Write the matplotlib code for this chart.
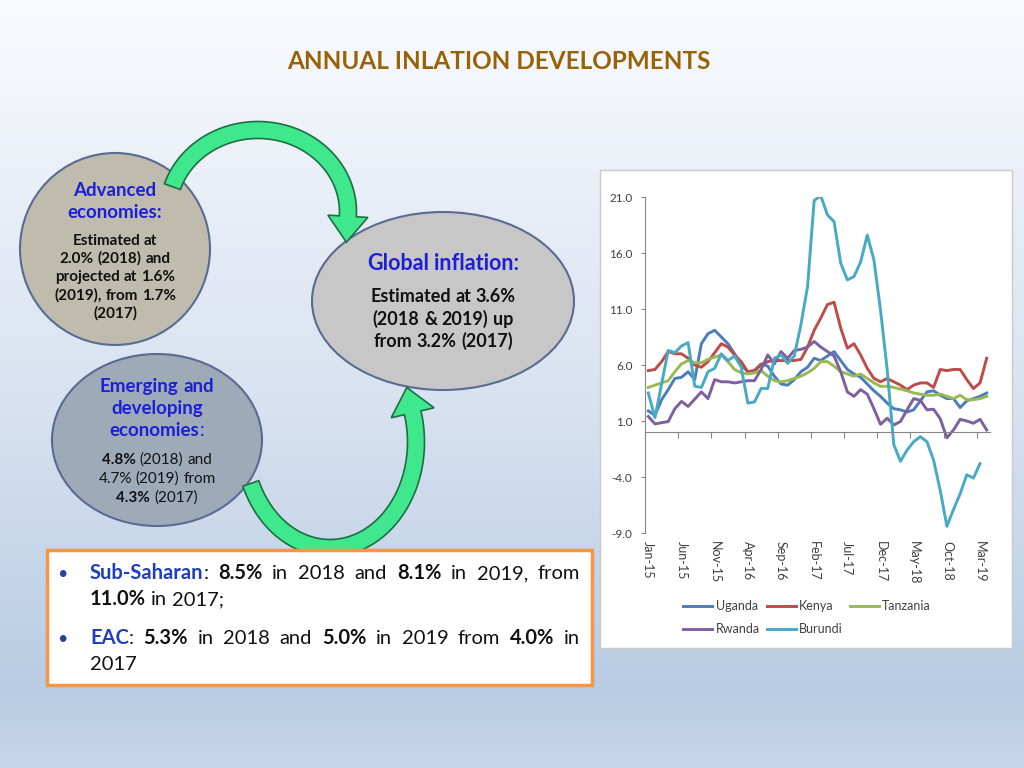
import numpy as np
import pandas as pd
import matplotlib
matplotlib.use('Agg')
import matplotlib.pyplot as plt
from matplotlib.patches import Ellipse, Rectangle, Polygon

plt.rcParams['font.family'] = ['Lato', 'DejaVu Sans']

# monthly annual inflation, Jan-15 .. Apr-19 (%)
months = pd.date_range('2015-01-01', periods=52, freq='MS').strftime('%b-%y')
tick_labels = ['Jan-15', 'Jun-15', 'Nov-15', 'Apr-16', 'Sep-16', 'Feb-17',
               'Jul-17', 'Dec-17', 'May-18', 'Oct-18', 'Mar-19']

uganda = [1.9, 1.5, 2.9, 3.8, 4.8, 4.9, 5.4, 4.7, 7.9, 8.8, 9.1, 8.5, 7.9,
          7.0, 6.0, 5.4, 5.5, 6.1, 5.9, 5.0, 4.3, 4.2, 4.7, 5.4, 5.8, 6.6,
          6.4, 6.8, 7.2, 6.4, 5.6, 5.2, 4.9, 4.3, 3.7, 3.2, 2.6, 2.1, 2.0,
          1.8, 2.0, 2.8, 3.6, 3.7, 3.3, 3.0, 3.0, 2.2, 2.8, 3.0, 3.2, 3.5]
kenya = [5.5, 5.6, 6.3, 7.2, 7.0, 7.0, 6.6, 6.0, 5.8, 6.3, 7.1, 7.9, 7.6,
         6.9, 6.3, 5.4, 5.5, 6.0, 6.3, 6.4, 6.4, 6.4, 6.4, 6.5, 7.6, 9.1,
         10.2, 11.4, 11.6, 9.3, 7.5, 7.9, 6.9, 5.7, 4.8, 4.5, 4.8, 4.5, 4.2,
         3.8, 4.2, 4.4, 4.4, 4.0, 5.6, 5.5, 5.6, 5.6, 4.7, 3.9, 4.4, 6.6]
tanzania = [4.0, 4.2, 4.4, 4.6, 5.4, 6.1, 6.4, 6.2, 6.2, 6.5, 6.7, 6.9, 6.3,
            5.6, 5.3, 5.2, 5.3, 5.5, 5.0, 4.6, 4.5, 4.6, 4.8, 5.0, 5.3, 5.7,
            6.3, 6.3, 5.9, 5.4, 5.2, 5.0, 5.2, 4.8, 4.4, 4.1, 4.1, 4.0, 3.85,
            3.7, 3.5, 3.4, 3.3, 3.3, 3.4, 3.2, 3.0, 3.3, 2.9, 2.9, 3.0, 3.2]
rwanda = [1.4, 0.74, 0.85, 0.95, 2.1, 2.75, 2.3, 2.95, 3.6, 3.0, 4.7, 4.5,
          4.5, 4.4, 4.5, 4.6, 4.6, 5.6, 6.9, 6.1, 7.2, 6.6, 7.3, 7.4, 7.6,
          8.1, 7.6, 7.2, 6.8, 5.4, 3.6, 3.2, 3.8, 3.4, 2.1, 0.7, 1.25, 0.65,
          0.95, 2.0, 3.0, 2.85, 2.0, 2.05, 1.2, -0.5, 0.2, 1.15, 1.0, 0.8,
          1.15, 0.2]
burundi = [3.5, 1.3, 4.3, 7.3, 7.1, 7.7, 8.0, 4.1, 4.0, 5.4, 5.7, 7.0, 6.4,
           6.8, 5.8, 2.6, 2.7, 3.9, 3.9, 6.6, 6.9, 6.15, 6.8, 9.6, 13.0,
           20.7, 21.1, 19.4, 18.8, 15.1, 13.6, 13.9, 15.2, 17.6, 15.4, 10.9,
           5.6, -1.1, -2.6, -1.6, -0.85, -0.4, -0.85, -2.5, -5.2, -8.4, -6.9,
           -5.5, -3.8, -4.1, -2.8, np.nan]

series = [('Uganda', uganda, '#4a7ebb'), ('Kenya', kenya, '#be4b48'),
          ('Tanzania', tanzania, '#98b954'), ('Rwanda', rwanda, '#7d60a0'),
          ('Burundi', burundi, '#46aac5')]

W, H = 1024, 768
fig = plt.figure(figsize=(W / 100, H / 100), dpi=100)

# slide background in pixel coordinates
bg = fig.add_axes([0, 0, 1, 1])
bg.set_xlim(0, W)
bg.set_ylim(H, 0)
bg.axis('off')
stops = [0.0, 0.15, 0.55, 0.9, 1.0]
cols = np.array([[0.98, 0.985, 0.995], [0.94, 0.955, 0.98], [0.84, 0.88, 0.94],
                 [0.72, 0.80, 0.89], [0.78, 0.84, 0.92]])
yy = np.linspace(0, 1, 300)
grad = np.stack([np.interp(yy, stops, cols[:, k]) for k in range(3)], axis=-1)
bg.imshow(grad[:, None, :], extent=[0, W, H, 0], aspect='auto', zorder=0)

renderer = fig.canvas.get_renderer()


def text_w(s, size, weight):
    t = bg.text(0, 0, s, fontsize=size, fontweight=weight)
    w = t.get_window_extent(renderer).width
    t.remove()
    return w


def rich_line(x, y, parts, size, align='center', right=None):
    # parts: (text, weight, color); align is 'center', 'left' or 'justify'
    words, cur = [], []
    for s, wt, c in parts:
        for k, ch in enumerate(s.split(' ')):
            if k > 0:
                words.append(cur)
                cur = []
            if ch:
                cur.append((ch, wt, c))
    words.append(cur)
    words = [w for w in words if w]
    sp = text_w('x x', size, 'normal') - text_w('xx', size, 'normal')
    placed = []
    for w in words:
        items = []
        for s, wt, c in w:
            t = bg.text(0, y, s, fontsize=size, fontweight=wt, color=c,
                        va='baseline', ha='left', zorder=6)
            items.append((t, t.get_window_extent(renderer).width))
        placed.append(items)
    widths = [sum(iw for _, iw in items) for items in placed]
    if align == 'justify' and len(words) > 1:
        gap = (right - x - sum(widths)) / (len(words) - 1)
        pos = x
    elif align == 'left':
        gap, pos = sp, x
    else:
        gap = sp
        pos = x - (sum(widths) + sp * (len(words) - 1)) / 2
    for items, ww in zip(placed, widths):
        p = pos
        for t, iw in items:
            t.set_x(p)
            p += iw
        pos += ww + gap


def arc_arrow(cx, cy, rx, ry, t0, t1, w, head_w, head_len):
    t = np.radians(np.linspace(t0, t1, 120))
    px = cx + rx * np.cos(t)
    py = cy - ry * np.sin(t)
    sgn = np.sign(t1 - t0)
    dx = -rx * np.sin(t) * sgn
    dy = -ry * np.cos(t) * sgn
    nrm = np.hypot(dx, dy)
    ux, uy = dx / nrm, dy / nrm
    nx, ny = -uy, ux
    outer = np.column_stack([px + nx * w / 2, py + ny * w / 2])
    inner = np.column_stack([px - nx * w / 2, py - ny * w / 2])
    ex, ey = px[-1], py[-1]
    head = [[ex + nx[-1] * head_w / 2, ey + ny[-1] * head_w / 2],
            [ex + ux[-1] * head_len, ey + uy[-1] * head_len],
            [ex - nx[-1] * head_w / 2, ey - ny[-1] * head_w / 2]]
    pts = np.vstack([outer, head, inner[::-1]])
    bg.add_patch(Polygon(pts, closed=True, fc='#3fe88c', ec='#1e6e44',
                         lw=1.2, zorder=4))


# title
bg.text(499, 69, 'ANNUAL INLATION DEVELOPMENTS', fontsize=17.5,
        fontweight='bold', color='#976306', ha='center', va='baseline')

# bubbles
edge = '#5a6b92'
bg.add_patch(Ellipse((115, 249), 190, 192, fc='#bfbcae', ec=edge, lw=1.5,
                     zorder=3))
bg.add_patch(Ellipse((443, 301), 262, 178, fc='#c7c7c7', ec=edge, lw=1.5,
                     zorder=3))
bg.add_patch(Ellipse((157, 440), 210, 172, fc='#9daab8', ec=edge, lw=1.5,
                     zorder=3))

arc_arrow(258, 212, 90, 82, 162, -3, 17, 40, 26)
arc_arrow(330, 442, 86, 106, 203, 376, 17, 44, 26)

head_blue = '#1d1fd6'
blk = '#111111'
rich_line(115, 196, [('Advanced', 'bold', head_blue)], 13.5)
rich_line(115, 218, [('economies:', 'bold', head_blue)], 13.5)
for yb, s in zip([245, 263, 281, 300, 318],
                 ['Estimated  at', '2.0% (2018) and', 'projected at 1.6%',
                  '(2019), from 1.7%', '(2017)']):
    rich_line(115, yb, [(s, 'bold', blk)], 11)

rich_line(443, 270, [('Global inflation:', 'bold', head_blue)], 15.5)
for yb, s in zip([302, 325, 347],
                 ['Estimated at 3.6%', '(2018 & 2019) up', 'from 3.2% (2017)']):
    rich_line(443, yb, [(s, 'bold', blk)], 13)

rich_line(157, 392, [('Emerging and', 'bold', head_blue)], 13.5)
rich_line(157, 414, [('developing', 'bold', head_blue)], 13.5)
rich_line(157, 436, [('economies', 'bold', head_blue), (':', 'normal', head_blue)], 13.5)
rich_line(157, 464, [('4.8%', 'bold', blk), (' (2018) and', 'normal', blk)], 11)
rich_line(157, 483, [('4.7% (2019) from', 'normal', blk)], 11)
rich_line(157, 502, [('4.3%', 'bold', blk), (' (2017)', 'normal', blk)], 11)

# bullet box
bg.add_patch(Rectangle((47, 550), 545, 135, fc='white', ec='#f79646', lw=2.5,
                       zorder=5))
blue2 = '#1f3fbf'
for yb in [579, 644]:
    bg.text(62, yb, '\u2022', fontsize=13, color='#2a3f9a', va='baseline',
            ha='center', zorder=6)
rich_line(90, 579, [('Sub-Saharan', 'bold', blue2), (': ', 'normal', blk),
                    ('8.5%', 'bold', blk), (' in 2018 and ', 'normal', blk),
                    ('8.1%', 'bold', blk), (' in 2019, from', 'normal', blk)],
          14.5, align='justify', right=580)
rich_line(90, 605, [('11.0%', 'bold', blk), (' in 2017;', 'normal', blk)],
          14.5, align='left')
rich_line(90, 644, [('EAC', 'bold', blue2), (': ', 'normal', blk),
                    ('5.3%', 'bold', blk), (' in 2018 and ', 'normal', blk),
                    ('5.0%', 'bold', blk), (' in 2019 from ', 'normal', blk),
                    ('4.0%', 'bold', blk), (' in', 'normal', blk)],
          14.5, align='justify', right=580)
rich_line(90, 670, [('2017', 'normal', blk)], 14.5, align='left')

# chart panel
bg.add_patch(Rectangle((600, 170), 412, 478, fc='white', ec='#c9c9c9',
                       lw=1, zorder=3))

ax = fig.add_axes([645 / W, 1 - 533 / H, (990 - 645) / W, (533 - 197) / H])
ax.patch.set_alpha(0)
x = np.arange(len(months))
lines = {}
for name, vals, c in series:
    lines[name], = ax.plot(x, vals, color=c, lw=2.1, label=name,
                           solid_joinstyle='round')
ax.set_xlim(-0.5, len(months) - 0.5)
ax.set_ylim(-9, 21)
ax.set_yticks([-9, -4, 1, 6, 11, 16, 21])
ax.set_yticklabels(['%.1f' % v for v in [-9, -4, 1, 6, 11, 16, 21]])
for s in ['top', 'right']:
    ax.spines[s].set_visible(False)
ax.spines['left'].set_color('#868686')
ax.spines['bottom'].set_color('#868686')
ax.spines['bottom'].set_position(('data', 0))
ax.set_xticks(np.arange(-0.5, len(months) - 1, 5))
ax.set_xticklabels([])
ax.tick_params(axis='x', direction='out', length=4, color='#868686')
ax.tick_params(axis='y', direction='out', length=3, color='#868686',
               labelsize=8.5, labelcolor='#404040', pad=6)

sec = ax.secondary_xaxis('bottom')
sec.set_xticks(np.arange(0, len(months), 5))
sec.set_xticklabels(tick_labels, rotation=-90, fontsize=9, color='#404040')
sec.tick_params(length=0, pad=6)
sec.spines['bottom'].set_visible(False)

order = ['Uganda', 'Rwanda', 'Kenya', 'Burundi', 'Tanzania']
ax.legend([lines[n] for n in order], order, loc='upper left',
          bbox_to_anchor=(672 / W, 1 - 589 / H), bbox_transform=fig.transFigure,
          ncol=3, frameon=False, fontsize=9, handlelength=2.3,
          handletextpad=0.3, columnspacing=0.55, labelspacing=0.85,
          labelcolor='#404040')

fig.savefig('out.png', dpi=100)
